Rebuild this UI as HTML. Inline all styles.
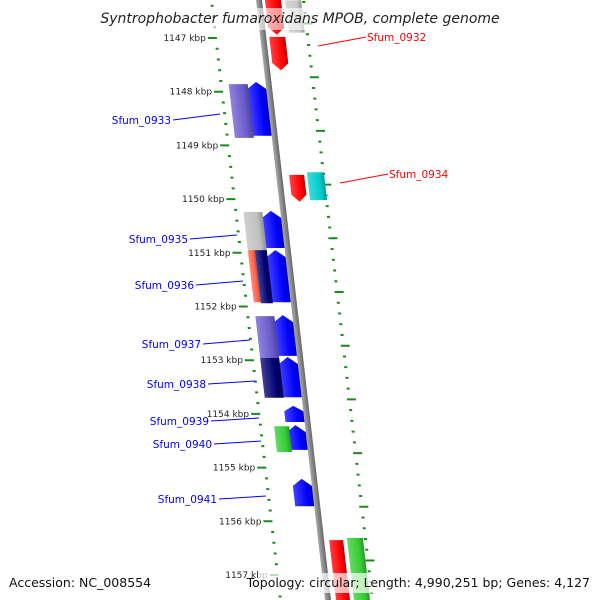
<!DOCTYPE html>
<html><head><meta charset="utf-8"><style>
html,body{margin:0;padding:0;background:#fff;width:600px;height:600px;overflow:hidden}
svg{display:block;font-family:"DejaVu Sans","Liberation Sans",sans-serif}
</style></head><body>
<svg id="c" width="600" height="600" viewBox="0 0 600 600">
<defs>
<linearGradient id="bb" x1="0" x2="1"><stop offset="0" stop-color="#aaa"/><stop offset="0.5" stop-color="#888"/><stop offset="1" stop-color="#666"/></linearGradient>
<clipPath id="clip"><rect x="0" y="0" width="600" height="600"/></clipPath>
</defs>
<g clip-path="url(#clip)">
<g id="map" transform="matrix(1,0,0.115,1,0,0)"></g>
<g id="labels"></g>
</g>
<rect x="105" y="8" width="390" height="22" fill="#fff" fill-opacity="0.6"/>
<text x="300" y="23" text-anchor="middle" font-size="14" font-style="italic" fill="#222">Syntrophobacter fumaroxidans MPOB, complete genome</text>
<rect x="5" y="573" width="150" height="20" fill="#fff" fill-opacity="0.7"/>
<text x="9" y="587" font-size="12.5" fill="#111">Accession: NC_008554</text>
<rect x="258" y="573" width="336" height="20" fill="#fff" fill-opacity="0.7"/>
<text x="590" y="587" text-anchor="end" font-size="12.5" fill="#111">Topology: circular; Length: 4,990,251 bp; Genes: 4,127</text>
</svg>
<script>
const tickKbp=[1147,1148,1149,1150,1151,1152,1153,1154,1155,1156,1157];
const geneStart=[1145.7,1146.98,1149.55,1156.35,1146.3,1149.5,1156.31,1147.82,1150.22,1150.95,1152.16,1152.94,1153.85,1154.21,1155.21,1147.86,1150.24,1150.95,1150.95,1152.18,1152.96,1154.23];
const geneEnd=[1146.94,1147.6,1150.05,1157.47,1146.9,1150.02,1157.47,1148.82,1150.91,1151.92,1152.92,1153.69,1154.15,1154.67,1155.72,1148.86,1150.95,1151.92,1151.94,1152.96,1153.7,1154.71];
const geneStrand=[1,1,1,0,0,0,0,-1,-1,-1,-1,-1,-1,-1,-1,0,0,0,0,0,0,0];
const geneColor=["#f00","#f00","#f00","#f00","#c8c8c8","#0cc","#3c3","#00f","#00f","#00f","#00f","#00f","#00f","#00f","#00f","#6a5acd","#c0c0c0","#ff6347","#000070","#6a5acd","#000070","#3c3"];
const geneX0=[6,6,10,8,26,28,26,-22,-22,-22,-22,-22,-22,-22,-22,-40,-40,-40,-33,-40,-40,-34];
const geneX1=[22,22,25,22,42,45,42,-3,-3,-3,-3,-3,-3,-3,-3,-21,-21,-33,-21,-21,-21,-19];
const labelNames=["Sfum_0932","Sfum_0933","Sfum_0934","Sfum_0935","Sfum_0936","Sfum_0937","Sfum_0938","Sfum_0939","Sfum_0940","Sfum_0941"];
const labelX=[367,171,389,188,194,201,206,209,212,217];
const labelY=[41,124,178,243,289,348,388,425,448,503];
const labelSide=[1,-1,1,-1,-1,-1,-1,-1,-1,-1];
const labelTargetX=[318,220,340,237,243,250,255,259,261,266];
const labelTargetY=[46,114,183,235,281,340,381,418,441,496];

const NS="http://www.w3.org/2000/svg";
const CX=259, LAX=-47.5, RAX=44;
function yk(k){return 38+(k-1147)*53.7;}
function mk(tag,attrs,parent){const e=document.createElementNS(NS,tag);for(const a in attrs)e.setAttribute(a,attrs[a]);parent.appendChild(e);return e;}
const map=document.getElementById('map'), lab=document.getElementById('labels');

const bb=mk('rect',{x:CX-3,y:-10,width:6,height:620,fill:'url(#bb)'},map);



for(let k=1145.6;k<=1158.2;k+=0.2){
  const kk=Math.round(k*10)/10;
  const major=Math.abs(kk-Math.round(kk))<0.01;
  const y=yk(kk);
  const t=mk('rect',{x:CX+LAX-(major?8:1.5),y:y-1,width:major?9:3,height:2,fill:'#1a8a1a'},map);
  
  
  const y2=yk(kk+0.73);
  const t2=mk('rect',{x:CX+RAX-(major?2:1),y:y2-1,width:major?9:3,height:2,fill:'#1a8a1a'},map);
  
  
}
tickKbp.forEach(k=>{
  const y=yk(k);
  const x=CX+LAX+0.115*y-10;
  const t=mk('text',{x:x,y:y+3,'text-anchor':'end','font-size':9,fill:'#222'},lab);
  t.textContent=k+' kbp';
  
  
});

function shade(c,f){const d=document.createElement('div');d.style.color=c;document.body.appendChild(d);const m=getComputedStyle(d).color.match(/\d+/g).map(Number);d.remove();return 'rgb('+m.slice(0,3).map(v=>Math.round(f>0?v+(255-v)*f:v*(1+f))).join(',')+')';}
geneStart.forEach((s,i)=>{
  const y0=yk(s), y1=yk(geneEnd[i]), x0=CX+geneX0[i], x1=CX+geneX1[i], tip=Math.min(7,(y1-y0)/3);
  let pts;
  if(geneStrand[i]===1) pts=[[x0,y0],[x1,y0],[x1,y1-tip],[(x0+x1)/2,y1],[x0,y1-tip]];
  else if(geneStrand[i]===-1) pts=[[x0,y0+tip],[(x0+x1)/2,y0],[x1,y0+tip],[x1,y1],[x0,y1]];
  else pts=[[x0,y0],[x1,y0],[x1,y1],[x0,y1]];
  const g=mk('g',{},map);
  
  
  const gid='gg'+i;
  const lg=mk('linearGradient',{id:gid,x1:0,x2:1},g);
  mk('stop',{offset:0,'stop-color':shade(geneColor[i],0.25)},lg);
  mk('stop',{offset:0.7,'stop-color':geneColor[i]},lg);
  mk('stop',{offset:1,'stop-color':shade(geneColor[i],-0.25)},lg);
  mk('polygon',{points:pts.map(p=>p.join(',')).join(' '),fill:'url(#'+gid+')'},g);
});

labelNames.forEach((n,i)=>{
  const col=labelSide[i]===1?'#f00':'#00f';
  const l=mk('line',{x1:labelSide[i]===1?labelX[i]-1:labelX[i]+2,y1:labelY[i]-4,x2:labelTargetX[i],y2:labelTargetY[i],stroke:col,'stroke-width':1},lab);
  
  
  const t=mk('text',{x:labelX[i],y:labelY[i],'text-anchor':labelSide[i]===1?'start':'end','font-size':10.5,fill:col},lab);
  t.textContent=n;
  
  
});
</script>
</body></html>
